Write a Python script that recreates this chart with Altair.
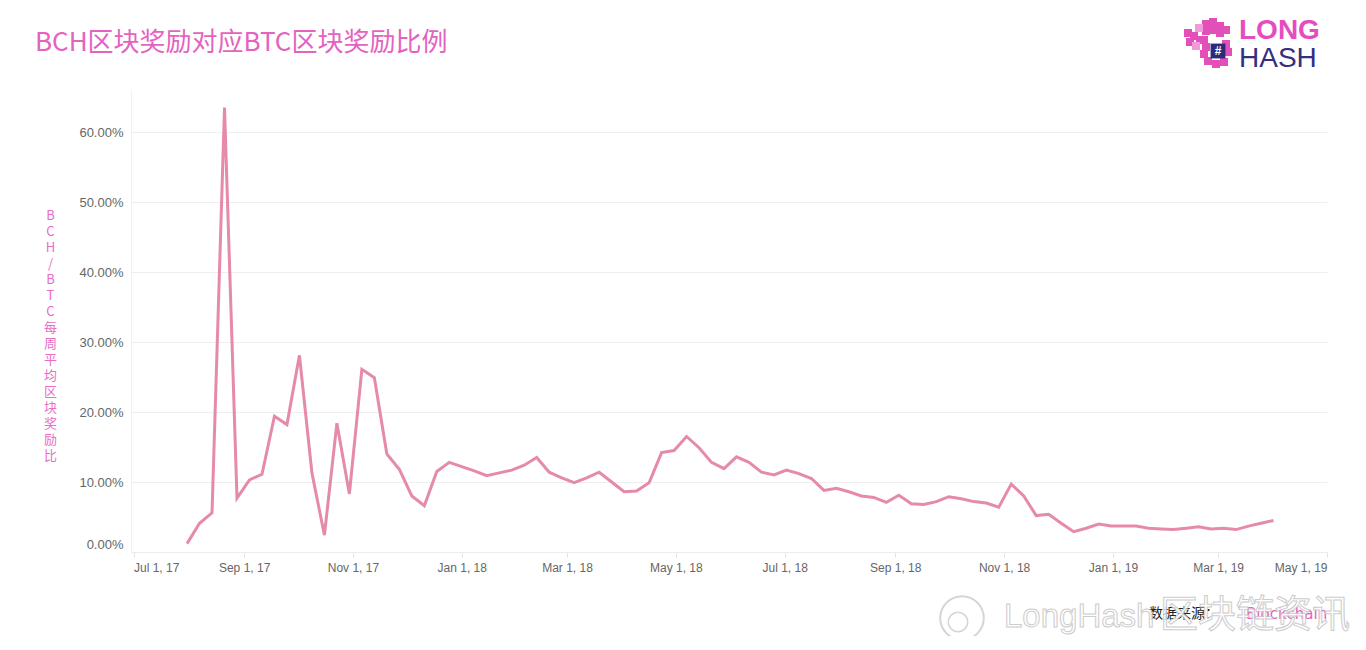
import altair as alt
import pandas as pd

# ---------------- data ----------------
week_start = "2017-07-31"
ratio_pct = [1.2, 4.1, 5.6, 63.5, 7.7, 10.3, 11.1, 19.4, 18.2, 28.1,
             11.3, 2.4, 18.4, 8.3, 26.1, 24.9, 14.0, 11.8, 8.0, 6.6,
             11.5, 12.8, 12.2, 11.6, 10.9, 11.3, 11.7, 12.4, 13.5, 11.4,
             10.6, 9.9, 10.6, 11.4, 10.0, 8.6, 8.7, 9.9, 14.2, 14.5,
             16.5, 14.9, 12.8, 11.9, 13.6, 12.8, 11.4, 11.0, 11.7, 11.2,
             10.5, 8.8, 9.1, 8.6, 8.0, 7.8, 7.1, 8.1, 6.9, 6.8,
             7.2, 7.9, 7.6, 7.2, 7.0, 6.4, 9.7, 8.0, 5.2, 5.4,
             4.1, 2.9, 3.4, 4.0, 3.7, 3.7, 3.7, 3.4, 3.3, 3.2,
             3.4, 3.6, 3.3, 3.4, 3.2, 3.7, 4.1, 4.5]
weeks = pd.date_range(week_start, periods=len(ratio_pct), freq="7D").strftime("%Y-%m-%d").tolist()

tick_dates = [(2017, 7), (2017, 9), (2017, 11), (2018, 1), (2018, 3), (2018, 5),
              (2018, 7), (2018, 9), (2018, 11), (2019, 1), (2019, 3), (2019, 5)]
y_ticks = [0, 0.1, 0.2, 0.3, 0.4, 0.5, 0.6]

title_text = "BCH区块奖励对应BTC区块奖励比例"
y_title = "BCH/BTC每周平均区块奖励比"
source_label = "数据来源："
source_name = "Blockchain"
watermark_latin = "LongHash"
watermark_cjk = "区块链资讯"

df = pd.DataFrame({"week": weeks, "ratio": [v / 100 for v in ratio_pct]})

PINK = "#E462C0"
LINE = "#E58AAA"
CJK = "Noto Sans CJK SC"
LAT = "Liberation Sans"

W, H = 1196, 462
X0, Y0 = 131, 90  # page position of the plot origin

x_scale = alt.Scale(
    type="utc",
    domain=[alt.DateTime(year=2017, month=6, date=29, hours=14, utc=True),
            alt.DateTime(year=2019, month=5, date=1, utc=True)],
)

line = alt.Chart(df).mark_line(color=LINE, strokeWidth=3, strokeJoin="miter").encode(
    x=alt.X("week:T", scale=x_scale, title=None,
            axis=alt.Axis(values=[alt.DateTime(year=y, month=m, date=1, utc=True) for y, m in tick_dates],
                          labelExpr="utcFormat(datum.value, '%b %-d, %y')",
                          labelFont=LAT, labelFontSize=12, labelColor="#666666",
                          labelFlush=5, labelPadding=5,
                          tickSize=5, tickColor="#e2e2e2",
                          domainColor="#ececec", grid=False)),
    y=alt.Y("ratio:Q", scale=alt.Scale(domain=[0, 0.66], nice=False),
            axis=alt.Axis(values=y_ticks, format=".2%",
                          labelFont=LAT, labelFontSize=13, labelColor="#666666",
                          labelFlush=True, labelFlushOffset=-1, labelPadding=8,
                          ticks=False, domainColor="#f0f0f0",
                          gridColor="#efefef", gridWidth=1,
                          title=list(y_title), titleAngle=0, titleX=50 - X0, titleY=215 - Y0,
                          titleAlign="center", titleBaseline="middle",
                          titleFont=CJK, titleFontSize=13, titleFontWeight="normal",
                          titleColor="#EA6CC6", titleLineHeight=16)),
)


def txt(text, x, y, size, color, font=CJK, weight="normal", align="left",
        baseline="middle", **kw):
    return alt.Chart(pd.DataFrame({"t": [text]})).mark_text(
        align=align, baseline=baseline, fontSize=size, color=color,
        font=font, fontWeight=weight, **kw
    ).encode(x=alt.value(x - X0), y=alt.value(y - Y0), text="t:N")


title = txt(title_text, 35, 43, 26, PINK)
logo_long = txt("LONG", 1239, 31, 28, "#E54DBE", font=LAT, weight="bold")
logo_hash = txt("HASH", 1239, 59, 28, "#34307F", font=LAT, weight="normal")

# pixel-block logo icon
icon_x = [1206, 1213, 1220, 1226, 1206, 1213, 1220, 1188, 1194, 1200, 1190,
          1204, 1206, 1204, 1208, 1216, 1224, 1228, 1226, 1199, 1196]
icon_y = [24, 22, 26, 30, 31, 30, 33, 33, 36, 40, 42,
          40, 47, 54, 61, 64, 62, 52, 44, 28, 46]
icon_c = ["#E34FB8"] * 19 + ["#F29AD9"] * 2
icon_df = pd.DataFrame({"px": [v - X0 for v in icon_x], "py": [v - Y0 for v in icon_y], "c": icon_c})
icon = alt.Chart(icon_df).mark_square(size=64, opacity=1).encode(
    x=alt.X("px:Q", scale=None, axis=None),
    y=alt.Y("py:Q", scale=None, axis=None),
    color=alt.Color("c:N", scale=None, legend=None),
)
panel = alt.Chart(pd.DataFrame({"t": ["#"]})).mark_square(size=220, color="#2B2A7C", opacity=1).encode(
    x=alt.value(1218 - X0), y=alt.value(51 - Y0))
panel_hash = txt("#", 1218, 51, 12, "white", font=LAT, weight="bold", align="center")

source1 = txt(source_label, 1149, 614, 14, "#222222")
source2 = txt(source_name, 1246, 614, 15, PINK, font="DejaVu Sans")

wm1 = txt(watermark_latin, 1004, 627, 33, "white", font=LAT, baseline="alphabetic",
          stroke="#c4c4c4", strokeWidth=1, opacity=0.85)
wm2 = txt(watermark_cjk, 1160, 627, 38, "white", font=CJK, baseline="alphabetic",
          stroke="#c4c4c4", strokeWidth=1, opacity=0.85)
wb1 = alt.Chart(pd.DataFrame({"t": [1]})).mark_point(shape="circle", size=1900, filled=False,
                                                    stroke="#c4c4c4", strokeWidth=2).encode(
    x=alt.value(962 - X0), y=alt.value(618 - Y0))
wb2 = alt.Chart(pd.DataFrame({"t": [1]})).mark_point(shape="circle", size=380, filled=False,
                                                    stroke="#c4c4c4", strokeWidth=1.5).encode(
    x=alt.value(958 - X0), y=alt.value(622 - Y0))

chart = alt.layer(
    line, title, logo_long, logo_hash, icon, panel, panel_hash,
    source1, source2, wb1, wb2, wm1, wm2
).resolve_scale(x="independent", y="independent").properties(
    width=W, height=H,
    autosize=alt.AutoSizeParams(type="none"),
    padding={"left": X0 - 8, "top": Y0 - 8, "right": 30, "bottom": 84},
    background="white",
).configure_view(stroke=None)

chart.save("out.html", embed_options={"renderer": "svg", "actions": False})
